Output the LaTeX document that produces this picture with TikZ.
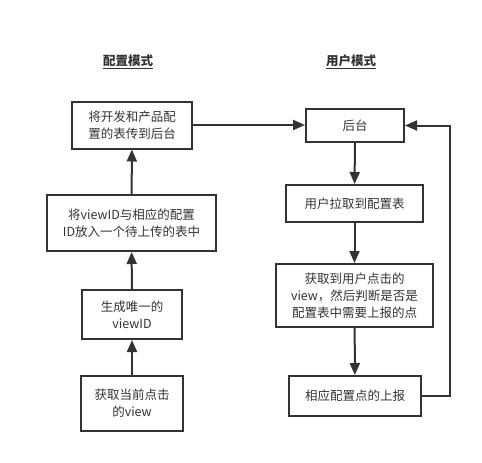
\documentclass[tikz,border=0pt]{standalone}
\usepackage{fontspec}
\setmainfont{Noto Sans CJK SC}
\usetikzlibrary{arrows.meta}
\definecolor{ink}{HTML}{333333}
\begin{document}
\begin{tikzpicture}[x=1pt,y=-1pt,
  box/.style={draw=ink,line width=2pt,text=ink,align=center,inner sep=0pt,
    font=\fontsize{12.5}{17}\selectfont},
  title/.style={text=ink,font=\fontsize{12.5}{15}\selectfont\bfseries},
  conn/.style={draw=ink,line width=2pt,-{Triangle[length=12pt,width=10pt]}}]
\useasboundingbox (0,0) rectangle (482,463);
\node[title] (t1) at (128,62) {\underline{配置模式}};
\node[title] (t2) at (351,62) {\underline{用户模式}};
% left column
\node[box,minimum width=120pt,minimum height=47pt] (b1) at (132,125) {将开发和产品配\\置的表传到后台};
\node[box,minimum width=169pt,minimum height=56pt] (b2) at (131.5,223) {将viewID与相应的配置\\ID放入一个待上传的表中};
\node[box,minimum width=100pt,minimum height=49pt] (b3) at (132,314.5) {生成唯一的\\viewID};
\node[box,minimum width=102pt,minimum height=55pt] (b4) at (132,403.5) {获取当前点击\\的view};
% right column
\node[box,minimum width=98pt,minimum height=33pt] (r1) at (355,125.5) {后台};
\node[box,minimum width=137pt,minimum height=37pt] (r2) at (354.5,203.5) {用户拉取到配置表};
\node[box,minimum width=157pt,minimum height=63pt] (r3) at (354.5,295.5) {获取到用户点击的\\view，然后判断是否是\\配置表中需要上报的点};
\node[box,minimum width=132pt,minimum height=40pt] (r4) at (355,396) {相应配置点的上报};
\coordinate (c1) at (450,396);
\coordinate (c2) at (450,125.5);
% connectors
\draw[conn] (b4) -- (b3);
\draw[conn] (b3) -- (b2);
\draw[conn] (b2) -- (b1);
\draw[conn] (b1.east) -- (b1.east -| r1.west);
\draw[conn] (r1) -- (r2);
\draw[conn] (r2) -- (r3);
\draw[conn] (r3) -- (r4);
\draw[conn] (r4.east) -- (c1) -- (c2) -- (r1.east);
\end{tikzpicture}
\end{document}
